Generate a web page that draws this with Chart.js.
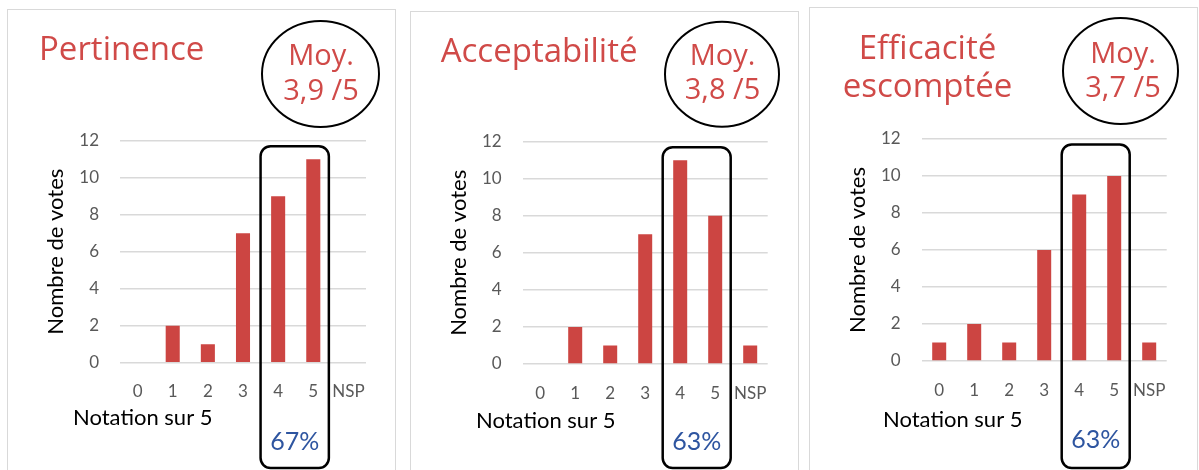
<!DOCTYPE html>
<html>
<head>
<meta charset="utf-8">
<script src="https://cdn.jsdelivr.net/npm/chart.js@4"></script>
<style>
  html, body { margin: 0; padding: 0; background: #fff; overflow: hidden; }
  #stage { position: relative; width: 1199px; height: 470px; }
  #stage canvas { position: absolute; left: 0; top: 0; }
  .frame { position: absolute; border: 1.5px solid #d9d9d9; border-bottom: none; box-sizing: border-box; }
</style>
</head>
<body>
<div id="stage">
  <div class="frame" style="left:7px;top:9px;width:389px;height:480px"></div>
  <div class="frame" style="left:410px;top:11px;width:389px;height:480px"></div>
  <div class="frame" style="left:809px;top:7px;width:389px;height:480px"></div>
  <canvas id="chart0" width="1199" height="470"></canvas>
  <canvas id="chart1" width="1199" height="470"></canvas>
  <canvas id="chart2" width="1199" height="470"></canvas>
</div>
<script>
// Vote counts per rating (0 to 5, then "ne se prononce pas")
const categories = ['0', '1', '2', '3', '4', '5', 'NSP'];
const pertinenceVotes = [0, 2, 1, 7, 9, 11, 0];
const acceptabiliteVotes = [0, 2, 1, 7, 11, 8, 1];
const efficaciteVotes = [1, 2, 1, 6, 9, 10, 1];
const voteTicks = [0, 2, 4, 6, 8, 10, 12];

const panelTitles = [['Pertinence'], ['Acceptabilité'], ['Efficacité', 'escomptée']];
const panelVotes = [pertinenceVotes, acceptabiliteVotes, efficaciteVotes];
const yAxisLabel = 'Nombre de votes';
const xAxisLabel = 'Notation sur 5';
const averagePrefix = 'Moy.';

const RED = '#d04a48';
const BAR = '#cc4542';
const BLUE = '#2e55a0';
const GRID = '#d9d9d9';

// Page geometry of each panel (pixels)
const layouts = [
  { area: { l: 120, r: 366, t: 140.7, b: 362.7 },
    title: { x: 39, ys: [60], align: 'left' },
    ring: { cx: 320.5, cy: 74, rx: 58.5, ry: 53, x: 321, ys: [65, 100] },
    shareY: 450, xTitle: { x: 73, y: 425 }, yTitleX: 56 },
  { area: { l: 522.7, r: 767.7, t: 141.7, b: 364 },
    title: { x: 440.7, ys: [61.7], align: 'left' },
    ring: { cx: 722, cy: 74.2, rx: 57, ry: 52.5, x: 722.5, ys: [65, 99.3] },
    shareY: 450, xTitle: { x: 476, y: 428.3 }, yTitleX: 459 },
  { area: { l: 921.7, r: 1166.7, t: 139, b: 361 },
    title: { x: 927.5, ys: [59.3, 97.3], align: 'center' },
    ring: { cx: 1120.5, cy: 71, rx: 57.5, ry: 53, x: 1123, ys: [63.3, 96.7] },
    shareY: 448, xTitle: { x: 883, y: 426.7 }, yTitleX: 858 }
];

// Mean rating (NSP excluded) and share of 4 and 5 among all votes
function summarize(votes) {
  let n = 0, sum = 0, total = 0;
  votes.forEach((v, i) => {
    total += v;
    if (categories[i] !== 'NSP') { n += v; sum += v * Number(categories[i]); }
  });
  const i4 = categories.indexOf('4'), i5 = categories.indexOf('5');
  return {
    mean: (sum / n).toFixed(1).replace('.', ','),
    share: Math.round((votes[i4] + votes[i5]) / total * 100) + '%'
  };
}

function roundRect(ctx, x, y, w, h, r) {
  ctx.beginPath();
  ctx.moveTo(x + r, y);
  ctx.lineTo(x + w - r, y);
  ctx.arcTo(x + w, y, x + w, y + r, r);
  ctx.lineTo(x + w, y + h - r);
  ctx.arcTo(x + w, y + h, x + w - r, y + h, r);
  ctx.lineTo(x + r, y + h);
  ctx.arcTo(x, y + h, x, y + h - r, r);
  ctx.lineTo(x, y + r);
  ctx.arcTo(x, y, x + r, y, r);
  ctx.closePath();
}

const panelDecor = {
  id: 'panelDecor',
  afterDraw(chart, args, opts) {
    const { ctx, chartArea, scales } = chart;
    const L = opts.layout;
    const stats = summarize(opts.votes);
    ctx.save();

    // Panel title
    ctx.fillStyle = RED;
    ctx.font = '33px "Open Sans"';
    ctx.textAlign = L.title.align;
    ctx.textBaseline = 'alphabetic';
    opts.title.forEach((line, i) => ctx.fillText(line, L.title.x, L.title.ys[i]));

    // Average in an ellipse
    const R = L.ring;
    ctx.beginPath();
    ctx.ellipse(R.cx, R.cy, R.rx, R.ry, 0, 0, Math.PI * 2);
    ctx.lineWidth = 2;
    ctx.strokeStyle = '#000';
    ctx.stroke();
    ctx.fillStyle = RED;
    ctx.font = '29px "Open Sans"';
    ctx.textAlign = 'center';
    ctx.fillText(averagePrefix, R.x, R.ys[0]);
    ctx.fillText(stats.mean + ' /5', R.x, R.ys[1]);

    // Frame around ratings 4 and 5
    const x = scales.x;
    const cw = x.getPixelForValue(1) - x.getPixelForValue(0);
    const bx0 = x.getPixelForValue(4) - cw / 2;
    const bx1 = x.getPixelForValue(5) + cw / 2 - 2;
    const by0 = chartArea.top + 5.5;
    roundRect(ctx, bx0, by0, bx1 - bx0, 468 - by0, 10);
    ctx.lineWidth = 2.5;
    ctx.strokeStyle = '#000';
    ctx.stroke();
    ctx.fillStyle = BLUE;
    ctx.font = '25px Lato';
    ctx.fillText(stats.share, (bx0 + bx1) / 2, L.shareY);

    // Axis titles
    ctx.fillStyle = '#000';
    ctx.font = '22px Lato';
    ctx.textAlign = 'left';
    ctx.fillText(xAxisLabel, L.xTitle.x, L.xTitle.y);
    ctx.translate(L.yTitleX, (chartArea.top + chartArea.bottom) / 2);
    ctx.rotate(-Math.PI / 2);
    ctx.textAlign = 'center';
    ctx.textBaseline = 'middle';
    ctx.fillText(yAxisLabel, 0, 0);
    ctx.restore();
  }
};

layouts.forEach((L, k) => {
  const W = 1199, H = 470;
  new Chart(document.getElementById('chart' + k), {
    type: 'bar',
    data: {
      labels: categories,
      datasets: [{
        data: panelVotes[k],
        backgroundColor: BAR,
        borderWidth: 0,
        barPercentage: 0.4,
        categoryPercentage: 1
      }]
    },
    options: {
      responsive: false,
      animation: false,
      devicePixelRatio: 1,
      events: [],
      layout: { padding: { left: 0, top: L.area.t, right: W - L.area.r, bottom: 0 } },
      plugins: {
        legend: { display: false },
        tooltip: { enabled: false },
        panelDecor: { layout: L, votes: panelVotes[k], title: panelTitles[k] }
      },
      scales: {
        x: {
          grid: { display: false, drawTicks: false },
          border: { display: false },
          ticks: { color: '#595959', font: { family: 'Lato', size: 17 }, padding: 19, maxRotation: 0, autoSkip: false },
          afterFit(scale) { scale.height = H - L.area.b; }
        },
        y: {
          min: 0, max: 12,
          afterBuildTicks(scale) { scale.ticks = voteTicks.map(v => ({ value: v })); },
          grid: { color: GRID, lineWidth: 1.5, drawTicks: false },
          border: { display: false },
          ticks: { color: '#595959', font: { family: 'Lato', size: 17 }, padding: 21 },
          afterFit(scale) { scale.width = L.area.l; }
        }
      }
    },
    plugins: [panelDecor]
  });
});
</script>
</body>
</html>
